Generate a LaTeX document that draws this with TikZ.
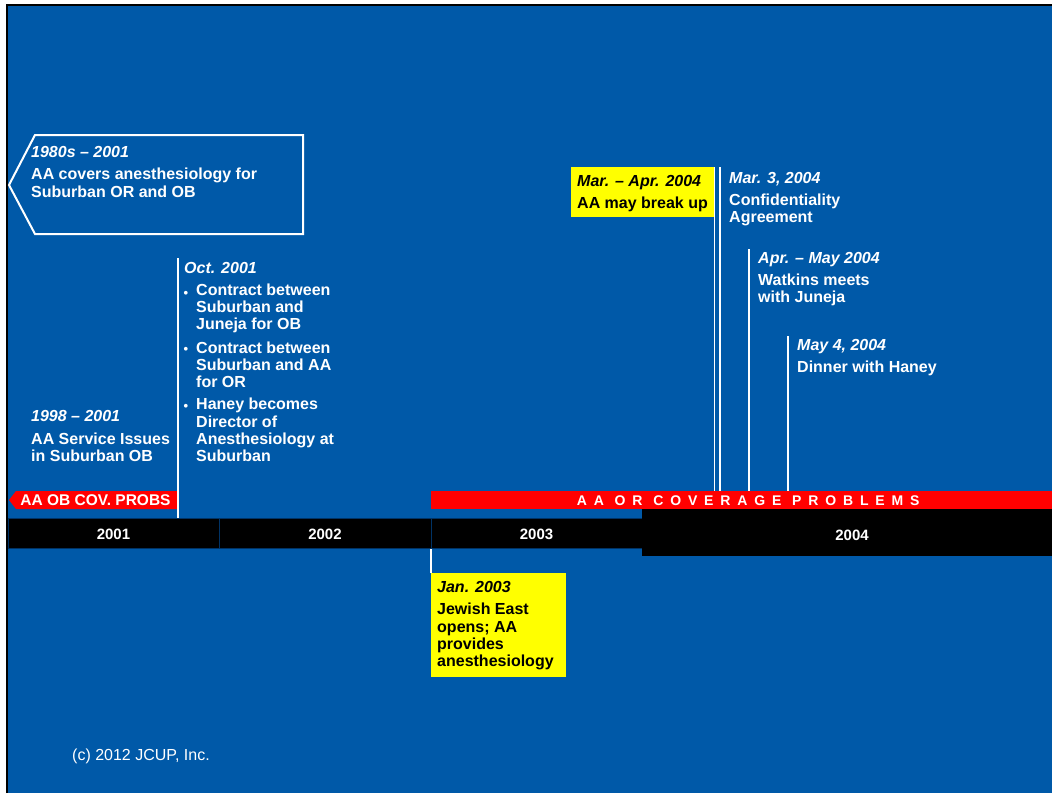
\documentclass[tikz,border=0pt]{standalone}
\usepackage{fontspec}
\setmainfont{Liberation Sans}
\usetikzlibrary{positioning,calc}
\definecolor{slideblue}{RGB}{0,89,168}
\definecolor{divblue}{RGB}{0,51,102}
\definecolor{probred}{RGB}{255,0,0}
\definecolor{noteyel}{RGB}{255,255,0}
\tikzset{
  datelbl/.style={font=\fontsize{16}{17.3}\selectfont\bfseries\itshape, text=white, anchor=base west, inner sep=0pt},
  evtext/.style={font=\fontsize{16}{17.3}\selectfont\bfseries, text=white, anchor=base west, inner sep=0pt, align=left},
  bullet/.style={font=\fontsize{13}{13}\selectfont\bfseries, text=white, inner sep=0pt},
  yearcell/.style={fill=black, draw=divblue, line width=1pt, minimum height=30, inner sep=0pt, text height=13pt, text depth=0pt, text=white, font=\fontsize{15}{15}\selectfont\bfseries},
  probtxt/.style={text=white, inner sep=0pt, font=\fontsize{15.5}{15.5}\selectfont\bfseries},
  notebox/.style={fill=noteyel, anchor=north west, inner sep=0pt},
  evline/.style={white, line width=1.2pt}
}
\begin{document}
\begin{tikzpicture}[x=1pt,y=-1pt]
\useasboundingbox (0,0) rectangle (1052,793);
\fill[white] (0,0) rectangle (1052,793);
\fill[slideblue] (8,6) rectangle (1052,793);
\draw[line width=2.5pt] (7,793) -- (7,5) -- (1052,5);

% year bar
\node[yearcell, minimum width=211] (y2001) at (113.5,533) {2001};
\node[yearcell, minimum width=212] (y2002) at (325,533) {2002};
\node[yearcell, minimum width=211] (y2003) at (536.5,533) {2003};
\node[yearcell, draw=none, minimum width=420, minimum height=47, text height=15pt] (y2004) at (852,532.5) {2004};

% coverage problems
\fill[probred] (9,500) -- (16,491) -- (178,491) -- (178,509) -- (16,509) -- cycle;
\node[probtxt] (obtxt) at (95.5,500) {AA OB COV. PROBS};
\node[fill=probred, minimum width=634, minimum height=18, inner sep=0pt, anchor=north west,
  text=white, font=\fontsize{14}{14}\selectfont\bfseries\addfontfeatures{LetterSpace=49}] (orbar) at (431,491) {AA OR COVERAGE PROBLEMS};

% 1980s - 2001
\draw[white, line width=2pt] (35,135) -- (303,135) -- (303,234) -- (35,234) -- (9,185) -- cycle;
\node[datelbl] (d80) at (31,157.7) {1980s – 2001};
\node[evtext] (t80) at (31,197) {AA covers anesthesiology for\\Suburban OR and OB};

% 1998 - 2001
\node[datelbl] (d98) at (31,421.7) {1998 – 2001};
\node[evtext] (t98) at (31,461.7) {AA Service Issues\\in Suburban OB};

% Oct. 2001
\coordinate (octtop) at (178,258);
\draw[evline] (octtop) -- (octtop |- y2001.north);
\node[datelbl] (doct) at (184,273.7) {Oct. 2001};
\node[evtext] (toct1) at (196,329.7) {Contract between\\Suburban and\\Juneja for OB};
\node[evtext] (toct2) at (196,387.7) {Contract between\\Suburban and AA\\for OR};
\node[evtext] (toct3) at (196,461.7) {Haney becomes\\Director of\\Anesthesiology at\\Suburban};
\node[bullet] (b1) at (186,294) {•};
\node[bullet] (b2) at (186,350) {•};
\node[bullet] (b3) at (186,407) {•};

% Jan. 2003
\node[notebox, minimum width=135, minimum height=104] (janbox) at (431,573) {};
\draw[evline] (janbox.north west) -- (janbox.north west |- y2003.south);
\node[datelbl, text=black] (djan) at (437,592.7) {Jan. 2003};
\node[evtext, text=black] (tjan) at (437,666.7) {Jewish East\\opens; AA\\provides\\anesthesiology};

% Mar. - Apr. 2004
\node[notebox, minimum width=143, minimum height=50] (marbox) at (571,167) {};
\draw[evline] (marbox.north east) -- (marbox.north east |- orbar.north);
\node[datelbl, text=black] (dmar) at (577,186.7) {Mar. – Apr. 2004};
\node[evtext, text=black] (tmar) at (577,208.7) {AA may break up};

% Mar. 3, 2004
\coordinate (mar3top) at (720,167);
\draw[evline] (mar3top) -- (mar3top |- orbar.north);
\node[datelbl] (dmar3) at (729,183.7) {Mar. 3, 2004};
\node[evtext] (tmar3) at (729,222.7) {Confidentiality\\Agreement};

% Apr. - May 2004
\coordinate (aprtop) at (749,249);
\draw[evline] (aprtop) -- (aprtop |- orbar.north);
\node[datelbl] (dapr) at (758,263.7) {Apr. – May 2004};
\node[evtext] (tapr) at (758,302.7) {Watkins meets\\with Juneja};

% May 4, 2004
\coordinate (maytop) at (788,336);
\draw[evline] (maytop) -- (maytop |- orbar.north);
\node[datelbl] (dmay) at (797,350.7) {May 4, 2004};
\node[evtext] (tmay) at (797,372.7) {Dinner with Haney};

\node[text=white, inner sep=0pt, anchor=base west, font=\fontsize{16}{16}\selectfont] (copy) at (72,760.5) {(c) 2012 JCUP, Inc.};
\end{tikzpicture}
\end{document}
